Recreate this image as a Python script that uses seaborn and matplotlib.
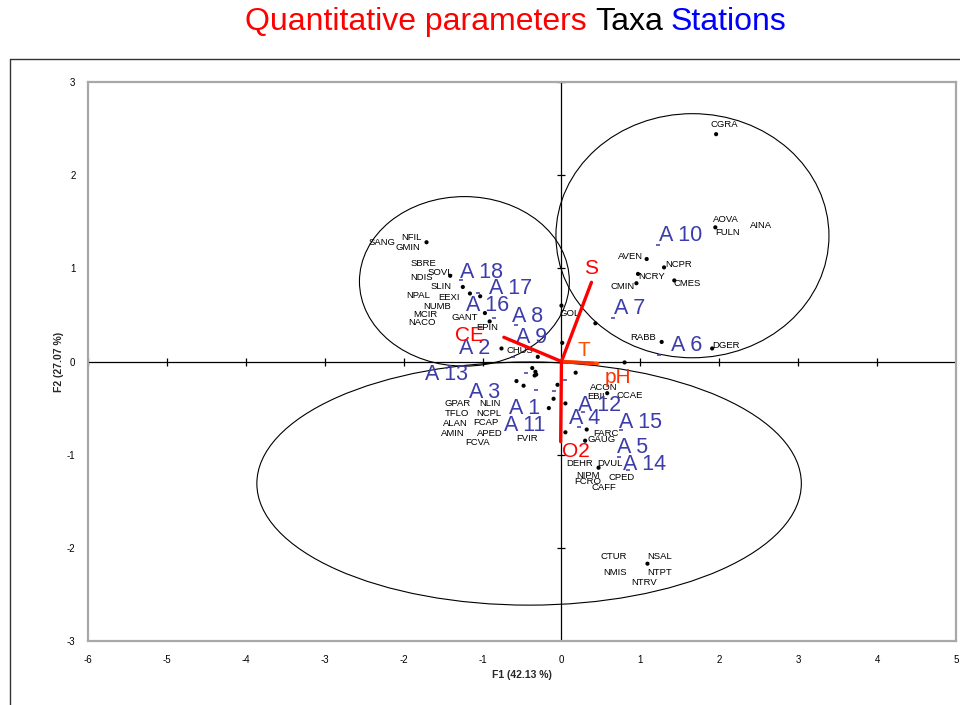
import matplotlib
matplotlib.use("Agg")
import matplotlib.pyplot as plt
from matplotlib.patches import Ellipse
from matplotlib.lines import Line2D
import seaborn as sns
import pandas as pd

# ---------------- data ----------------
title_parts = ["Quantitative parameters", "Taxa", "Stations"]
title_colors = ["#ff0000", "#000000", "#0000ff"]
x_label = "F1 (42.13 %)"
y_label = "F2 (27.07 %)"
x_ticks = [-6, -5, -4, -3, -2, -1, 0, 1, 2, 3, 4, 5]
y_ticks = [-3, -2, -1, 0, 1, 2, 3]

# taxa points (black dots)
taxa_x = [-1.71, -1.41, -1.25, -1.16, -1.03, -0.97, -0.91, -0.76, -0.30, 0.00, 0.43, 0.01,
          -0.37, -0.33, -0.32, -0.34, -0.57, -0.48, -0.05, 0.18, -0.10, 0.05, -0.16, 0.05,
          0.58, 0.32, 0.30, 0.47, 1.08, 1.30, 0.97, 0.95, 1.43, 1.27, 1.91, 1.96, 1.95, 1.09, 0.80]
taxa_y = [1.28, 0.92, 0.80, 0.73, 0.70, 0.52, 0.43, 0.14, 0.05, 0.60, 0.41, 0.20,
          -0.07, -0.11, -0.14, -0.15, -0.21, -0.26, -0.25, -0.12, -0.40, -0.45, -0.50, -0.76,
          -0.34, -0.73, -0.85, -1.14, 1.10, 1.01, 0.94, 0.84, 0.87, 0.21, 0.14, 2.44, 1.44, -2.17, -0.01]

# taxa labels
taxa_names = ["SANG", "NFIL", "GMIN", "SBRE", "SOVL", "NDIS", "SLIN", "NPAL", "EEXI", "NUMB",
              "MCIR", "NACO", "GANT", "EPIN", "CHUS", "GOL", "AVEN", "NCPR", "NCRY", "CMIN",
              "CMES", "RABB", "DGER", "CGRA", "AOVA", "FULN", "AINA", "ACON", "EBIL", "CCAE",
              "FARC", "GAUG", "DEHR", "DVUL", "NIPM", "FCRO", "CPED", "CAFF", "GPAR", "NLIN",
              "TFLO", "NCPL", "ALAN", "FCAP", "AMIN", "APED", "FCVA", "FVIR", "CTUR", "NSAL",
              "NMIS", "NTPT", "NTRV"]
taxa_lx = [-2.27, -1.90, -1.94, -1.75, -1.54, -1.77, -1.52, -1.81, -1.42, -1.58,
           -1.72, -1.77, -1.23, -0.94, -0.52, 0.10, 0.87, 1.48, 1.14, 0.78,
           1.59, 1.03, 2.09, 2.06, 2.09, 2.10, 2.53, 0.54, 0.46, 0.86,
           0.57, 0.51, 0.23, 0.61, 0.34, 0.33, 0.76, 0.54, -1.32, -0.90,
           -1.33, -0.92, -1.34, -0.96, -1.38, -0.91, -1.06, -0.44, 0.66, 1.25,
           0.68, 1.25, 1.05]
taxa_ly = [1.28, 1.33, 1.22, 1.05, 0.96, 0.90, 0.80, 0.71, 0.69, 0.59,
           0.50, 0.42, 0.47, 0.37, 0.12, 0.51, 1.13, 1.04, 0.91, 0.81,
           0.84, 0.26, 0.17, 2.54, 1.52, 1.38, 1.46, -0.28, -0.38, -0.36,
           -0.77, -0.84, -1.09, -1.09, -1.22, -1.29, -1.25, -1.35, -0.45, -0.45,
           -0.56, -0.56, -0.67, -0.66, -0.77, -0.77, -0.87, -0.83, -2.09, -2.09,
           -2.26, -2.26, -2.37]

# stations
station_names = ["A 1", "A 2", "A 3", "A 4", "A 5", "A 6", "A 7", "A 8", "A 9", "A 10",
                 "A 11", "A 12", "A 13", "A 14", "A 15", "A 16", "A 17", "A 18"]
station_x = [-0.10, -0.61, -0.32, 0.22, 0.73, 1.24, 0.65, -0.57, -0.28, 1.22,
             0.04, 0.27, -0.45, 0.84, 0.76, -0.86, -1.06, -1.27]
station_y = [-0.32, 0.05, -0.31, -0.70, -1.02, 0.07, 0.47, 0.39, 0.10, 1.25,
             -0.20, -0.54, -0.12, -1.16, -0.73, 0.47, 0.73, 0.87]
station_lx = [-0.47, -1.10, -0.97, 0.29, 0.90, 1.59, 0.86, -0.43, -0.38, 1.51,
              -0.46, 0.48, -1.46, 1.05, 1.00, -0.94, -0.65, -1.01]
station_ly = [-0.50, 0.14, -0.33, -0.61, -0.92, 0.17, 0.57, 0.48, 0.26, 1.35,
              -0.69, -0.47, -0.14, -1.11, -0.66, 0.60, 0.78, 0.95]

# quantitative parameters (vectors)
param_names = ["S", "CE", "T", "pH", "O2"]
param_x = [0.38, -0.73, 0.46, 0.40, -0.01]
param_y = [0.85, 0.26, -0.02, -0.02, -0.86]
param_lx = [0.38, -1.16, 0.29, 0.72, 0.18]
param_ly = [1.00, 0.28, 0.12, -0.17, -0.97]
param_colors = ["#ff0000", "#ff0000", "#ff5000", "#ff3000", "#ff0000"]

# group ellipses: centre x, centre y, width, height
ell_cx = [-1.23, 1.66, -0.41]
ell_cy = [0.86, 1.35, -1.31]
ell_w = [2.66, 3.46, 6.90]
ell_h = [1.82, 2.62, 2.61]

# ---------------- figure ----------------
sns.set_style("white")
plt.rcParams["font.family"] = ["Liberation Sans", "DejaVu Sans"]
plt.rcParams["axes.unicode_minus"] = False

W, H = 960, 705
fig = plt.figure(figsize=(9.6, 7.05), dpi=100)
ax = fig.add_axes([88 / W, 1 - 641 / H, (956 - 88) / W, (641 - 82) / H])
ax.set_xlim(-6, 5)
ax.set_ylim(-3, 3)

for s in ax.spines.values():
    s.set_color("#a8a8a8")
    s.set_linewidth(1.6)

# origin axes lines
ax.axhline(0, color="black", lw=0.9, zorder=1)
ax.axvline(0, color="black", lw=0.9, zorder=1)
ax.plot(x_ticks, [0] * len(x_ticks), ls="none", marker="|", ms=6, color="black", mew=0.9)
ax.plot([0] * len(y_ticks), y_ticks, ls="none", marker="_", ms=6, color="black", mew=0.9)

# ellipses
for cx, cy, w, h in zip(ell_cx, ell_cy, ell_w, ell_h):
    ax.add_patch(Ellipse((cx, cy), w, h, fill=False, ec="black", lw=0.8, zorder=2))

# taxa dots
taxa_df = pd.DataFrame({"x": taxa_x, "y": taxa_y})
sns.scatterplot(data=taxa_df, x="x", y="y", ax=ax, color="black", s=9,
                edgecolor="none", zorder=4, legend=False)
for n, lx, ly in zip(taxa_names, taxa_lx, taxa_ly):
    ax.text(lx, ly, n, fontsize=6.8, color="black", ha="center", va="center", zorder=5)

# stations
st_df = pd.DataFrame({"x": station_x, "y": station_y})
sns.scatterplot(data=st_df, x="x", y="y", ax=ax, color="#3a3aaa", marker="_", s=12,
                linewidth=1.1, zorder=4, legend=False)
for n, lx, ly in zip(station_names, station_lx, station_ly):
    ax.text(lx, ly, n, fontsize=15.5, color="#3c3caa", ha="center", va="center", zorder=6)

# vectors
for px, py, c in zip(param_x, param_y, param_colors):
    ax.plot([0, px], [0, py], color=c, lw=2.4, solid_capstyle="round", zorder=7)
for n, lx, ly, c in zip(param_names, param_lx, param_ly, param_colors):
    ax.text(lx, ly, n, fontsize=15, color=c, ha="center", va="center", zorder=8)

ax.set_xticks(x_ticks)
ax.set_yticks(y_ticks)
ax.tick_params(axis="both", length=0, labelsize=7, colors="black")
ax.tick_params(axis="x", pad=10)
ax.tick_params(axis="y", pad=9)
ax.set_xlabel(x_label, fontsize=7.5, fontweight="bold", labelpad=4)
ax.set_ylabel(y_label, fontsize=7.5, fontweight="bold", labelpad=2)

# outer frame
fig.add_artist(Line2D([10 / W, 10 / W], [0, 1 - 59 / H], color="#333333", lw=1.0))
fig.add_artist(Line2D([10 / W, 1], [1 - 59 / H, 1 - 59 / H], color="#333333", lw=1.0))

# multi-coloured title
renderer = fig.canvas.get_renderer()
texts = []
for part, col in zip(title_parts, title_colors):
    texts.append(fig.text(0, 1 - 22 / H, part, fontsize=23, color=col, va="center", ha="left"))
space = 8
widths = [t.get_window_extent(renderer).width for t in texts]
total = sum(widths) + space * (len(widths) - 1)
x0 = 516 - total / 2
for t, w in zip(texts, widths):
    t.set_x(x0 / W)
    x0 += w + space

fig.savefig("out.png", dpi=100)
